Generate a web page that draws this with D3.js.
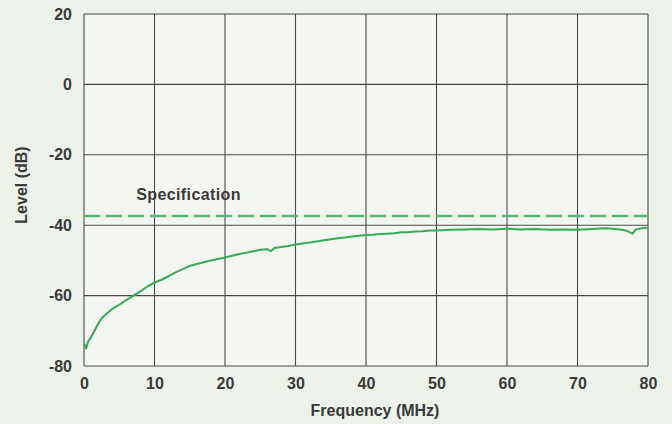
<!DOCTYPE html>
<html>
<head>
<meta charset="utf-8">
<script src="https://cdn.jsdelivr.net/npm/d3@7"></script>
<style>
  html, body { margin: 0; padding: 0; background: #edf2eb; }
  svg { display: block; }
  text { font-family: "Liberation Sans", Arial, Helvetica, sans-serif; fill: #3a3a3a; }
</style>
</head>
<body>
<div id="chart"></div>
<script>
// ---- data ----
const freq = [0, 0.3, 0.6, 1, 1.5, 2, 2.5, 3, 4, 5, 6, 7, 8, 9, 10, 11, 12, 13, 14, 15,
  16, 17, 18, 19, 20, 21, 22, 23, 24, 25, 26, 26.5, 27, 28, 29, 30, 31, 32, 33, 34,
  35, 36, 37, 38, 39, 40, 41, 42, 43, 44, 45, 46, 47, 48, 49, 50, 52, 54, 56, 58,
  60, 62, 64, 66, 68, 70, 72, 74, 75, 76, 77, 77.8, 78.3, 79, 80];
const level = [-73.5, -75, -73, -71.8, -70, -68, -66.5, -65.5, -63.8, -62.6, -61.3, -60, -58.8, -57.4, -56.3, -55.5, -54.5, -53.4, -52.5, -51.6,
  -51.0, -50.5, -50.0, -49.6, -49.2, -48.7, -48.2, -47.8, -47.4, -47.0, -46.8, -47.4, -46.5, -46.2, -45.9, -45.5, -45.2, -44.9, -44.6, -44.3,
  -44.0, -43.7, -43.5, -43.2, -43.0, -42.8, -42.7, -42.5, -42.4, -42.3, -42.0, -42.0, -41.8, -41.7, -41.5, -41.5, -41.3, -41.2, -41.1, -41.2,
  -41.0, -41.2, -41.1, -41.3, -41.2, -41.3, -41.1, -40.9, -41.0, -41.2, -41.6, -42.4, -41.2, -40.9, -40.7];
const specLevel = -37.4;
const specLabel = "Specification";
const xTicks = [0, 10, 20, 30, 40, 50, 60, 70, 80];
const yTicks = [20, 0, -20, -40, -60, -80];
const xTitle = "Frequency (MHz)";
const yTitle = "Level (dB)";

// ---- layout ----
const W = 672, H = 424;
const margin = { left: 84, right: 24, top: 14, bottom: 58 };
const svg = d3.select("#chart").append("svg").attr("width", W).attr("height", H);

const x = d3.scaleLinear().domain([0, 80]).range([margin.left, W - margin.right]);
const y = d3.scaleLinear().domain([-80, 20]).range([H - margin.bottom, margin.top]);

// plot background
svg.append("rect")
  .attr("x", x(0)).attr("y", y(20))
  .attr("width", x(80) - x(0)).attr("height", y(-80) - y(20))
  .attr("fill", "#f4f7f1");

// grid
const grid = svg.append("g").attr("stroke", "#4a4a4a").attr("stroke-width", 1.1);
grid.selectAll("line.v").data(xTicks).enter().append("line")
  .attr("x1", d => x(d)).attr("x2", d => x(d))
  .attr("y1", y(20)).attr("y2", y(-80));
grid.selectAll("line.h").data(yTicks).enter().append("line")
  .attr("x1", x(0)).attr("x2", x(80))
  .attr("y1", d => y(d)).attr("y2", d => y(d));

// axes (labels only)
const xAxis = svg.append("g").attr("transform", `translate(0,${y(-80)})`)
  .call(d3.axisBottom(x).tickValues(xTicks).tickSize(0).tickPadding(12).tickFormat(d3.format("d")));
xAxis.select(".domain").remove();
xAxis.selectAll("text").attr("font-size", 16).attr("font-weight", "bold").attr("fill", "#3a3a3a")
  .style("font-family", "'Liberation Sans', Arial, sans-serif");

const yAxis = svg.append("g").attr("transform", `translate(${x(0)},0)`)
  .call(d3.axisLeft(y).tickValues(yTicks).tickSize(0).tickPadding(12).tickFormat(d => d < 0 ? "-" + Math.abs(d) : d));
yAxis.select(".domain").remove();
yAxis.selectAll("text").attr("font-size", 16).attr("font-weight", "bold").attr("fill", "#3a3a3a")
  .style("font-family", "'Liberation Sans', Arial, sans-serif");

// spec line
svg.append("line")
  .attr("x1", x(0)).attr("x2", x(80))
  .attr("y1", y(specLevel)).attr("y2", y(specLevel))
  .attr("stroke", "#55b877").attr("stroke-width", 2.4)
  .attr("stroke-dasharray", "16,6");

svg.append("text")
  .attr("x", x(7.4)).attr("y", y(specLevel) - 16)
  .attr("font-size", 16).attr("font-weight", "bold")
  .attr("letter-spacing", 0.4)
  .text(specLabel);

// data line
const line = d3.line().x((d, i) => x(freq[i])).y(d => y(d)).curve(d3.curveLinear);
svg.append("path")
  .datum(level)
  .attr("d", line)
  .attr("fill", "none")
  .attr("stroke", "#3aa95a")
  .attr("stroke-width", 2)
  .attr("stroke-linejoin", "round");

// titles
svg.append("text")
  .attr("x", 375).attr("y", 416)
  .attr("text-anchor", "middle")
  .attr("font-size", 16).attr("font-weight", "bold")
  .text(xTitle);

svg.append("text")
  .attr("transform", `translate(27,185) rotate(-90)`)
  .attr("text-anchor", "middle")
  .attr("font-size", 16).attr("font-weight", "bold")
  .text(yTitle);
</script>
</body>
</html>
